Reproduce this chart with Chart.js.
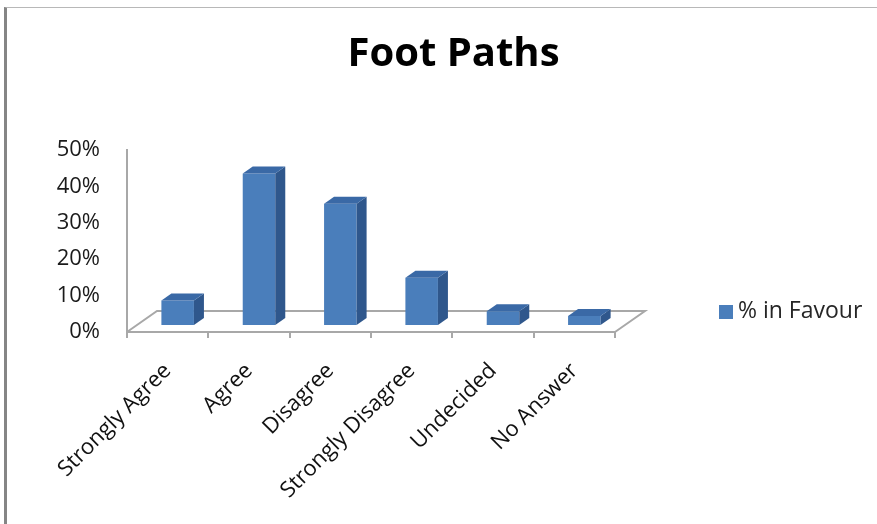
<!DOCTYPE html>
<html>
<head>
<meta charset="utf-8">
<script src="https://cdn.jsdelivr.net/npm/chart.js@4"></script>
<style>
  html, body { margin: 0; padding: 0; background: #fff; }
  #wrap { position: relative; width: 877px; height: 524px; overflow: hidden; }
  #frame { position: absolute; left: 4px; top: 7px; width: 1000px; height: 1000px;
           border-left: 3px solid #858585; border-top: 1px solid #b8b8b8; }
  #chart { position: absolute; left: 0; top: 0; }
  #legend { position: absolute; left: 719px; top: 293px; font-family: "Open Sans", sans-serif;
            font-size: 23px; color: #262626; white-space: nowrap; }
  #legend .sw { display: inline-block; width: 14px; height: 14px; margin-right: 5px; vertical-align: -1px; }
</style>
</head>
<body>
<div id="wrap">
  <div id="frame"></div>
  <canvas id="chart" width="877" height="524"></canvas>
  <div id="legend"></div>
</div>
<script>
// Survey answers and the share of respondents for each
const categories = ['Strongly Agree', 'Agree', 'Disagree', 'Strongly Disagree', 'Undecided', 'No Answer'];
const inFavour = [6.7, 41.6, 33.3, 13.0, 3.8, 2.5];
const seriesName = '% in Favour';
const yTicks = [0, 10, 20, 30, 40, 50];

const FONT = '"Open Sans", sans-serif';
const FRONT = '#4a7ebb', SIDE = '#2f578c', TOP = '#3a69a6';
const LINE = '#a8a8a8';

// oblique projection of the floor depth, and the slice of it the columns occupy
const DEPTH = { x: 30, y: -21 };
const COL_FRONT = 1 / 3, COL_BACK = 2 / 3;

const box3d = {
  id: 'box3d',
  beforeDatasetsDraw(chart) {
    const { ctx, chartArea: a } = chart;
    ctx.save();
    ctx.strokeStyle = LINE;
    ctx.lineWidth = 2;
    ctx.beginPath();
    ctx.moveTo(a.left, a.bottom);
    ctx.lineTo(a.left + DEPTH.x, a.bottom + DEPTH.y);
    ctx.lineTo(a.right + DEPTH.x, a.bottom + DEPTH.y);
    ctx.lineTo(a.right, a.bottom);
    ctx.stroke();
    ctx.restore();
    // columns are drawn on the front plane of their slice
    ctx.save();
    ctx.translate(DEPTH.x * COL_FRONT, DEPTH.y * COL_FRONT);
  },
  afterDatasetsDraw(chart) {
    const { ctx } = chart;
    const dx = DEPTH.x * (COL_BACK - COL_FRONT), dy = DEPTH.y * (COL_BACK - COL_FRONT);
    chart.getDatasetMeta(0).data.forEach(bar => {
      const { x, y, base, width } = bar.getProps(['x', 'y', 'base', 'width'], true);
      const l = x - width / 2, r = x + width / 2;
      ctx.fillStyle = SIDE;
      ctx.beginPath();
      ctx.moveTo(r, y); ctx.lineTo(r + dx, y + dy); ctx.lineTo(r + dx, base + dy); ctx.lineTo(r, base);
      ctx.closePath(); ctx.fill();
      ctx.fillStyle = TOP;
      ctx.beginPath();
      ctx.moveTo(l, y); ctx.lineTo(l + dx, y + dy); ctx.lineTo(r + dx, y + dy); ctx.lineTo(r, y);
      ctx.closePath(); ctx.fill();
    });
    ctx.restore();
  }
};

const chart = new Chart(document.getElementById('chart'), {
  type: 'bar',
  data: {
    labels: categories,
    datasets: [{
      label: seriesName,
      data: inFavour,
      backgroundColor: FRONT,
      borderWidth: 0,
      barPercentage: 0.4,
      categoryPercentage: 1,
      clip: false
    }]
  },
  options: {
    responsive: false,
    animation: false,
    events: [],
    layout: { padding: { left: 30, right: 0, top: 0, bottom: 0 } },
    plugins: {
      legend: { display: false },
      tooltip: { enabled: false },
      title: {
        display: true,
        text: 'Foot Paths',
        color: '#000',
        font: { family: FONT, size: 40, weight: 'bold' },
        padding: { top: 31, bottom: 71 }
      }
    },
    scales: {
      x: {
        grid: { display: true, drawOnChartArea: false, drawTicks: true, tickLength: 6, color: LINE, lineWidth: 2, offset: true },
        border: { display: true, color: LINE, width: 2 },
        ticks: { autoSkip: false, maxRotation: 45, minRotation: 45, padding: 20,
                 color: '#111', font: { family: FONT, size: 22 } },
        afterFit: s => { s.height = 192; }
      },
      y: {
        min: 0, max: 50,
        afterBuildTicks: s => { s.ticks = yTicks.map(v => ({ value: v })); },
        grid: { display: false },
        border: { display: true, color: LINE, width: 2 },
        ticks: { padding: 19, color: '#1a1a1a', font: { family: FONT, size: 22 },
                 callback: v => v + '%' },
        afterFit: s => { s.width = 97; }
      },
      gutter: {
        type: 'linear', position: 'right', display: true,
        grid: { display: false }, border: { display: false }, ticks: { display: false },
        afterFit: s => { s.width = 262; }
      }
    }
  },
  plugins: [box3d]
});

// legend built from the dataset
const legend = document.getElementById('legend');
chart.data.datasets.forEach(ds => {
  const item = document.createElement('div');
  const sw = document.createElement('span');
  sw.className = 'sw';
  sw.style.background = ds.backgroundColor;
  item.appendChild(sw);
  item.appendChild(document.createTextNode(ds.label));
  legend.appendChild(item);
});
</script>
</body>
</html>
